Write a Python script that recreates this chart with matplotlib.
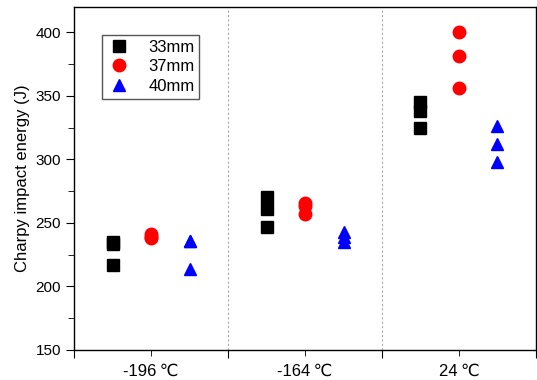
import numpy as np
import matplotlib.pyplot as plt
from matplotlib.ticker import MultipleLocator

plt.rcParams['font.family'] = ['Liberation Sans', 'DejaVu Sans']

temps = ["-196\u2009\u2103", "-164\u2009\u2103", "24\u2009\u2103"]
s33 = [[235, 233, 217], [270, 261, 247], [345, 338, 325]]
s37 = [[241, 239, 238], [266, 263, 257], [400, 381, 356]]
s40 = [[236, 236, 214], [243, 239, 235], [326, 312, 298]]

series = [
    ("33mm", s33, -0.25, "s", "black", 8),
    ("37mm", s37, 0.0, "o", "red", 9),
    ("40mm", s40, 0.25, "^", "blue", 9),
]

fig = plt.figure(figsize=(5.37, 3.80), dpi=100)
ax = fig.add_axes([0.138, 0.079, 0.860, 0.903])

for name, vals, off, mk, col, ms in series:
    xs, ys = [], []
    for i, v in enumerate(vals):
        xs += [i + 0.5 + off] * len(v)
        ys += v
    ax.plot(xs, ys, ls="none", marker=mk, color=col, ms=ms, label=name)

ax.set_xlim(0, 3)
ax.set_ylim(150, 420)
ax.set_xticks([0, 1, 2, 3])
ax.set_xticklabels([])
ax.set_xticks([0.5, 1.5, 2.5], minor=True)
ax.set_xticklabels(temps, minor=True, fontsize=12)
ax.tick_params(axis="x", which="minor", length=4, direction="out", pad=6)
ax.tick_params(axis="x", which="major", length=6, direction="out")
ax.yaxis.set_major_locator(MultipleLocator(50))
ax.yaxis.set_minor_locator(MultipleLocator(25))
ax.tick_params(axis="y", which="major", length=6, labelsize=11)
ax.tick_params(axis="y", which="minor", length=4)
for xv in [1, 2]:
    ax.axvline(xv, color="#aaaaaa", ls=(0, (2, 2)), lw=0.8)

ax.set_ylabel("Charpy impact energy (J)", fontsize=12)
for sp in ax.spines.values():
    sp.set_linewidth(1.0)

ax.legend(loc="upper left", bbox_to_anchor=(0.06, 0.918), borderaxespad=0,
          fontsize=12, fancybox=False, edgecolor="#555555", framealpha=1,
          handletextpad=1.0, borderpad=0.28, labelspacing=0.28,
          handlelength=1.5)

fig.savefig("out.png", dpi=100)
